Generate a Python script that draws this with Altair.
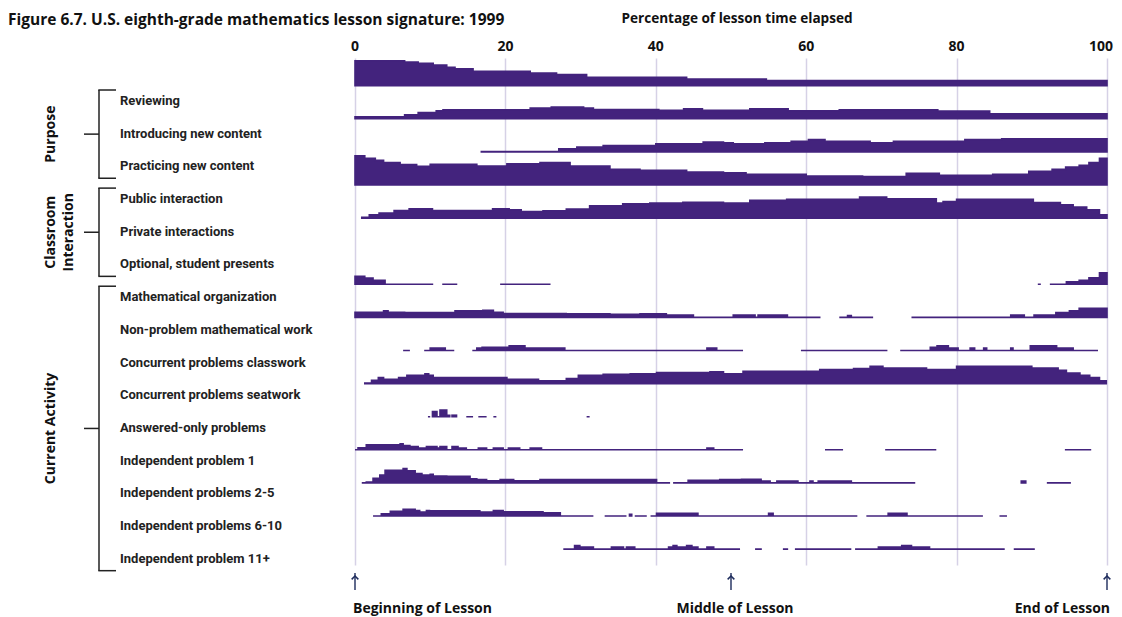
import altair as alt
import pandas as pd

# ---------------- data ----------------
LABELS = ["Reviewing", "Introducing new content", "Practicing new content",
          "Public interaction", "Private interactions", "Optional, student presents",
          "Mathematical organization", "Non-problem mathematical work",
          "Concurrent problems classwork", "Concurrent problems seatwork",
          "Answered-only problems", "Independent problem 1", "Independent problems 2-5",
          "Independent problems 6-10", "Independent problem 11+"]

GROUPS = ["Purpose", "Classroom\nInteraction", "Current Activity"]
GROUP_FIRST = [0, 3, 6]
GROUP_LAST = [2, 5, 14]

X_TICKS = [0, 20, 40, 60, 80, 100]
X_TITLE = "Percentage of lesson time elapsed"
MARKERS = [0, 50, 100]
MARKER_TEXT = ["Beginning of Lesson", "Middle of Lesson", "End of Lesson"]

# each series: list of segments; each segment: (percent of lesson elapsed, percent of lessons)
REVIEWING = [[(0, 83), (6.6, 79), (8.4, 75), (10.4, 69), (12.2, 61), (13.3, 56), (15.7, 48),
              (23.3, 42), (26.8, 37), (30.8, 28), (44.1, 22), (54.7, 17), (100, 17)]]
INTRODUCING = [[(0, 7), (6.6, 13), (8.4, 21), (10.8, 27), (11.7, 30), (23.3, 36), (26.1, 39),
                (30.4, 36), (31.7, 31), (40.4, 28), (43.7, 33), (46.2, 28), (52.5, 33),
                (57.6, 27), (64.4, 30), (77.5, 26), (84.4, 17), (100, 17)]]
PRACTICING = [[(16.8, 1), (27.1, 10), (29.5, 16), (33, 21), (40, 27), (46.3, 33), (49, 30),
               (50.3, 27), (54.5, 30), (58, 35), (60.3, 41), (62.5, 35), (68.5, 30),
               (71.6, 35), (81.1, 41), (86, 44), (100, 44)]]
PUBLIC = [[(0, 97), (1.3, 89), (2.7, 82), (3.8, 75), (6, 68), (8.2, 62), (10, 69), (16.2, 63),
           (20.2, 71), (24.6, 75), (28.6, 63), (33.9, 52), (37.9, 49), (44.1, 43), (49, 41),
           (52, 36), (60, 30), (67.5, 28), (73.3, 39), (77.7, 32), (84.8, 36), (89.6, 46),
           (92.7, 52), (94.5, 60), (96.3, 66), (97.6, 75), (99, 89), (100, 89)]]
PRIVATE = [[(0.9, 3), (1.9, 11), (3.2, 17), (5.2, 25), (7.2, 31), (10.3, 25), (18.3, 31),
            (20.5, 28), (22.1, 22), (25, 24), (28.1, 30), (31.2, 41), (35.6, 48), (39.2, 50),
            (43.6, 53), (49, 50), (52.5, 59), (57.4, 63), (67.1, 70), (70.7, 64), (77.3, 50),
            (78.2, 55), (80, 63), (90.2, 52), (93.8, 44), (95.5, 37), (97.3, 28), (99, 11),
            (100, 11)]]
OPTIONAL = []
MATH_ORG = [[(0, 27), (1.3, 21), (2.4, 13), (4, 0), (10.4, 0)],
            [(11.6, 0), (13.6, 0)],
            [(19.3, 0), (26, 0)],
            [(90.8, 0), (91.2, 0)],
            [(92.4, 0), (94.6, 8), (96.3, 13), (97.6, 22), (99, 38), (100, 38)]]
NON_PROBLEM = [[(0, 17), (3.8, 22), (4.4, 17), (6.6, 16), (13.3, 22), (17, 24), (18.4, 17),
                (19.7, 13), (28.1, 12), (33.9, 10), (37.9, 12), (41.4, 8), (45, 0), (50.3, 8),
                (53.2, 0), (53.6, 8), (57.5, 0), (61.9, 0)],
               [(64.4, 0), (65.5, 6), (66, 0), (68.9, 0)],
               [(74, 0), (87.2, 8), (89, 0), (90.3, 8), (93.2, 16), (95, 22), (96.3, 30),
                (100, 30)]]
CLASSWORK = [[(6.4, 0), (7.3, 0)],
             [(9.2, 0), (10, 8), (12, 0), (13.2, 0)],
             [(15.6, 0), (16.2, 8), (16.7, 0), (16.9, 11), (20.5, 16), (22.6, 8), (27.9, 0),
              (46.8, 8), (48.1, 0), (51.6, 0)],
             [(59.3, 0), (70.8, 0)],
             [(72.5, 0), (76.5, 11), (77.4, 16), (78.9, 8), (80.2, 0), (81.8, 8), (82.4, 0),
              (83.6, 8), (84, 0), (87.2, 8), (87.5, 0), (89.8, 16), (93.3, 8), (95.5, 0),
              (98.8, 0)]]
SEATWORK = [[(1.3, 2), (2.2, 11), (3.1, 20), (3.8, 14), (5.8, 20), (6.9, 28), (9.3, 33),
             (9.8, 28), (10.4, 20), (20.2, 14), (24.4, 9), (28.1, 17), (29.7, 28), (33, 31),
             (36.6, 33), (40.1, 37), (47.2, 39), (49, 33), (51.6, 41), (61.8, 47), (66.3, 50),
             (68.5, 58), (70.2, 52), (76, 47), (80, 58), (90, 52), (93.5, 44), (94.6, 35),
             (96.4, 28), (97.7, 20), (99, 9), (99.9, 9)]]
ANSWERED = [[(9.7, 0), (10, 0)],
            [(10.3, 17), (10.9, 0), (11.3, 22), (12.2, 5), (12.6, 5)],
            [(12.9, 5), (13.5, 5)],
            [(14.8, 0), (15.7, 0)],
            [(16.4, 0), (17.5, 0)],
            [(18.4, 0), (18.8, 0)],
            [(30.8, 0), (31.2, 0)]]
INDEP_1 = [[(0, 0), (0.4, 7), (1.5, 17), (6, 20), (6.4, 14), (7.3, 11), (8.4, 6), (9.5, 11),
            (10.9, 6), (11.3, 11), (12.2, 0), (12.9, 11), (13.7, 6), (14.8, 0), (16.4, 6),
            (17.5, 0), (18.4, 6), (19.7, 0), (20.4, 6), (21.9, 0), (23.3, 6), (24.8, 0),
            (46.8, 6), (47.7, 0), (51.6, 0)],
           [(62.5, 0), (64.9, 0)],
           [(70.5, 0), (77.3, 0)],
           [(94.4, 0), (97.9, 0)]]
INDEP_2_5 = [[(0.9, 0), (1.5, 3), (2.4, 15), (3.3, 26), (4, 42), (6.4, 48), (6.9, 40), (8, 31),
              (8.9, 26), (10, 29), (10.4, 23), (12.2, 22), (15.3, 14), (16.2, 11), (17.5, 7),
              (19.3, 11), (21.1, 7), (24.6, 11), (40.1, 0), (41.9, 0)],
             [(42.3, 0), (44.3, 9), (48.5, 11), (51.4, 12), (54, 6), (55.2, 0), (56.1, 6),
              (58.9, 0), (60.5, 6), (60.9, 0), (61.6, 6), (66, 0), (74.5, 0)],
             [(88.6, 6), (89.2, 6)],
             [(92, 0), (95.2, 0)]]
INDEP_6_10 = [[(2.4, 0), (3.5, 7), (4.7, 16), (6.4, 22), (8, 18), (8.6, 13), (9.5, 18),
               (9.9, 17), (16.6, 13), (18.4, 18), (19.7, 14), (25, 11), (27.3, 0), (31.7, 0)],
              [(33.2, 0), (36.1, 0)],
              [(36.5, 6), (36.8, 6)],
              [(37.2, 0), (38.8, 0)],
              [(39.3, 0), (40.1, 9), (45.6, 0), (55, 9), (55.6, 0), (66.8, 0)],
              [(68, 0), (70.9, 9), (73.4, 0), (83.5, 0)],
              [(85.7, 0), (86.7, 0)]]
INDEP_11 = [[(27.7, 0), (29.2, 12), (29.9, 7), (31.7, 0), (34.1, 7), (35.7, 0), (36.1, 7),
             (37.2, 0), (41.7, 7), (42.3, 12), (42.8, 7), (44.1, 12), (44.8, 7), (45.6, 0),
             (46.8, 7), (47.7, 0), (51.2, 0)],
            [(53.2, 0), (54.1, 0)],
            [(56.9, 0), (57.6, 0)],
            [(58.5, 0), (66, 0)],
            [(66.5, 0), (69.6, 7), (72.7, 12), (73.4, 7), (73.6, 12), (74, 7), (76.4, 0),
             (86.4, 0)],
            [(87.6, 0), (90.4, 0)]]

SERIES = [REVIEWING, INTRODUCING, PRACTICING, PUBLIC, PRIVATE, OPTIONAL, MATH_ORG, NON_PROBLEM,
          CLASSWORK, SEATWORK, ANSWERED, INDEP_1, INDEP_2_5, INDEP_6_10, INDEP_11]

# ---------------- layout ----------------
W, H = 752, 507
ROW_PX = 33.1
PCT_TO_ROW = 0.30 / ROW_PX          # 100 % of lessons = 30 px band height
Y_DOMAIN = [-27.7 / ROW_PX, (H - 27.7) / ROW_PX]
FILL = "#43237d"
NAVY = "#1d2b5c"
GRID = "#d6d1e6"
BOLD_FONT = "Open Sans"
NARROW_FONT = "Roboto"

recs = []
for k, segs in enumerate(SERIES):
    for s, seg in enumerate(segs):
        for x, v in seg:
            recs.append({"row": k, "seg": f"{k}-{s}", "x": x,
                         "ybase": k, "ytop": k - v * PCT_TO_ROW})
band_df = pd.DataFrame(recs)

label_rows = [k * 0.988 + 0.46 for k in range(len(LABELS))]
label_df = pd.DataFrame({"label": LABELS, "yr": label_rows})

grp_df = pd.DataFrame({
    "group": GROUPS,
    "top": [label_rows[a] - 0.33 for a in GROUP_FIRST],
    "bot": [label_rows[b] + 0.36 for b in GROUP_LAST],
})
grp_df["mid"] = (grp_df["top"] + grp_df["bot"]) / 2

mark_df = pd.DataFrame({"x": MARKERS, "text": MARKER_TEXT})
tick_df = pd.DataFrame({"x": X_TICKS, "t": [str(v) for v in X_TICKS]})

yscale = alt.Scale(domain=Y_DOMAIN, reverse=True, nice=False, zero=False)
xscale = alt.Scale(domain=[0, 100], nice=False, zero=False)
xaxis = alt.Axis(
    orient="top", values=X_TICKS, grid=True, domain=False, ticks=False, labels=False,
    gridColor=GRID, gridWidth=1.5, title="")


def xenc():
    return alt.X("x:Q", scale=xscale, axis=xaxis)


bands = alt.Chart(band_df).mark_area(
    interpolate="step-after", color=FILL, stroke=FILL, strokeWidth=1.6, strokeJoin="miter"
).encode(
    x=xenc(),
    y=alt.Y("ytop:Q", scale=yscale, axis=None),
    y2="ybase:Q",
    detail="seg:N",
)

# top tick labels (last one kept inside the page)
tick_mid = alt.Chart(tick_df[tick_df["x"] < 100]).mark_text(
    align="center", baseline="middle", font=BOLD_FONT, fontWeight="bold", fontSize=14,
    color="#111"
).encode(x=xenc(), y=alt.value(-11), text="t:N")
tick_end = alt.Chart(tick_df[tick_df["x"] == 100]).mark_text(
    align="right", baseline="middle", font=BOLD_FONT, fontWeight="bold", fontSize=14,
    color="#111", dx=6
).encode(x=xenc(), y=alt.value(-11), text="t:N")
xtitle = alt.Chart(pd.DataFrame({"x": [50], "t": [X_TITLE]})).mark_text(
    align="center", baseline="middle", font=BOLD_FONT, fontWeight="bold", fontSize=13.6,
    color="#111", dx=6
).encode(x=xenc(), y=alt.value(-39), text="t:N")

labels = alt.Chart(label_df).mark_text(
    align="left", baseline="middle", font=NARROW_FONT, fontWeight="bold", fontSize=13,
    color="#222"
).encode(x=alt.value(-235), y=alt.Y("yr:Q", scale=yscale, axis=None), text="label:N")

vrule = alt.Chart(grp_df).mark_rule(color="#222", strokeWidth=1.5).encode(
    x=alt.value(-256), y=alt.Y("top:Q", scale=yscale, axis=None), y2="bot:Q")
ttop = alt.Chart(grp_df).mark_rule(color="#222", strokeWidth=1.5).encode(
    x=alt.value(-256.7), x2=alt.value(-239), y=alt.Y("top:Q", scale=yscale, axis=None))
tbot = alt.Chart(grp_df).mark_rule(color="#222", strokeWidth=1.5).encode(
    x=alt.value(-256.7), x2=alt.value(-239), y=alt.Y("bot:Q", scale=yscale, axis=None))
tmid = alt.Chart(grp_df).mark_rule(color="#222", strokeWidth=1.5).encode(
    x=alt.value(-271), x2=alt.value(-256), y=alt.Y("mid:Q", scale=yscale, axis=None))
gtext = alt.Chart(grp_df).transform_calculate(
    lines="split(datum.group, '\\n')"
).mark_text(
    angle=270, align="center", baseline="middle", font=BOLD_FONT, fontWeight="bold",
    fontSize=14, color="#111", lineHeight=18
).encode(x=alt.value(-304), y=alt.Y("mid:Q", scale=yscale, axis=None), text="lines:N")

arrows = alt.Chart(mark_df).mark_rule(color=NAVY, strokeWidth=1.4).encode(
    x=xenc(), y=alt.value(515), y2=alt.value(532))
heads = alt.Chart(mark_df).mark_point(
    shape="M-1,1L0,0L1,1", filled=False, color=NAVY, strokeWidth=1.5, size=45, opacity=1
).encode(x=xenc(), y=alt.value(518))


def bottom_text(i, align, dx):
    return alt.Chart(mark_df.iloc[[i]]).mark_text(
        align=align, baseline="middle", font=BOLD_FONT, fontWeight="bold", fontSize=14,
        color="#111", dx=dx
    ).encode(x=xenc(), y=alt.value(551), text="text:N")


title_df = pd.DataFrame({"t": ["Figure 6.7. U.S. eighth-grade mathematics lesson signature: 1999"]})
title = alt.Chart(title_df).mark_text(
    align="left", baseline="middle", font=BOLD_FONT, fontWeight="bold", fontSize=15.5,
    color="#111"
).encode(x=alt.value(-347), y=alt.value(-38), text="t:N")

chart = alt.layer(
    bands, tick_mid, tick_end, xtitle, labels, vrule, ttop, tbot, tmid, gtext, arrows, heads,
    bottom_text(0, "left", -2), bottom_text(1, "center", 4), bottom_text(2, "right", 3),
    title
).properties(
    width=W, height=H,
    padding={"left": 347, "top": 50, "right": 7, "bottom": 52},
    autosize=alt.AutoSizeParams(type="none"),
    background="white",
).configure_view(strokeWidth=0)

chart.save("out.html", embed_options={"renderer": "svg", "actions": False})
